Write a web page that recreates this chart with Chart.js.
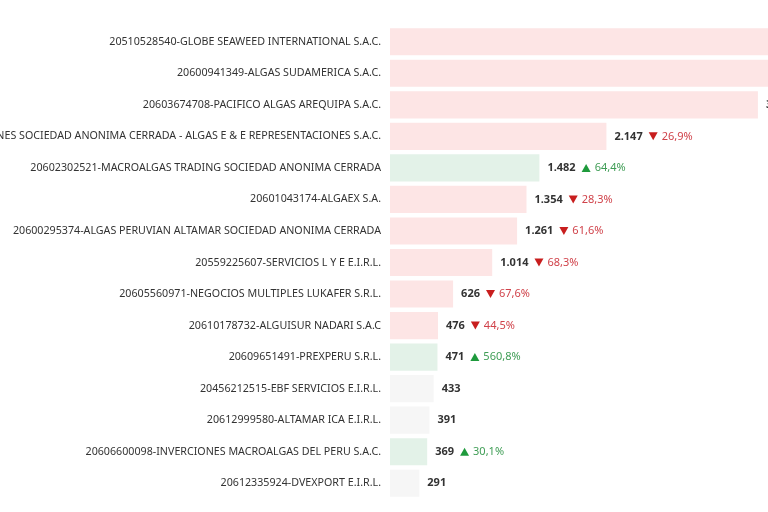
<!DOCTYPE html>
<html>
<head>
<meta charset="utf-8">
<script src="https://cdn.jsdelivr.net/npm/chart.js@4.4.1/dist/chart.umd.min.js"></script>
<style>
  html, body { margin: 0; padding: 0; background: #ffffff; overflow: hidden; }
  #wrap { width: 768px; height: 512px; position: relative; }
</style>
</head>
<body>
<div id="wrap"><canvas id="myChart"></canvas></div>
<script>
// data
const companies = [
    "20510528540-GLOBE SEAWEED INTERNATIONAL S.A.C.",
    "20600941349-ALGAS SUDAMERICA S.A.C.",
    "20603674708-PACIFICO ALGAS AREQUIPA S.A.C.",
    "ALGAS E & E REPRESENTACIONES SOCIEDAD ANONIMA CERRADA - ALGAS E & E REPRESENTACIONES S.A.C.",
    "20602302521-MACROALGAS TRADING SOCIEDAD ANONIMA CERRADA",
    "20601043174-ALGAEX S.A.",
    "20600295374-ALGAS PERUVIAN ALTAMAR SOCIEDAD ANONIMA CERRADA",
    "20559225607-SERVICIOS L Y E E.I.R.L.",
    "20605560971-NEGOCIOS MULTIPLES LUKAFER S.R.L.",
    "20610178732-ALGUISUR NADARI S.A.C",
    "20609651491-PREXPERU S.R.L.",
    "20456212515-EBF SERVICIOS E.I.R.L.",
    "20612999580-ALTAMAR ICA E.I.R.L.",
    "20606600098-INVERCIONES MACROALGAS DEL PERU S.A.C.",
    "20612335924-DVEXPORT E.I.R.L."
];
const amounts = [4980, 4120, 3650, 2147, 1482, 1354, 1261, 1014, 626, 476, 471, 433, 391, 369, 291];
// trend: -1 down, 1 up, 0 no comparison
const trend = [-1, -1, -1, -1, 1, -1, -1, -1, -1, -1, 1, 0, 0, 1, 0];
const changePct = [null, null, null, 26.9, 64.4, 28.3, 61.6, 68.3, 67.6, 44.5, 560.8, null, null, 30.1, null];
const axisMax = 3750;

const fontFamily = "'Noto Sans', 'Open Sans', sans-serif";

function fmtInt(n) {
    return String(Math.round(n)).replace(/\B(?=(\d{3})+(?!\d))/g, ".");
}
function fmtPct(p) {
    return p.toFixed(1).replace(".", ",") + "%";
}

const barColors = trend.map(t => t < 0 ? "#fde5e5" : (t > 0 ? "#e3f2e8" : "#f6f6f6"));

// draws value + change after each bar
const valueLabels = {
    id: "valueLabels",
    afterDatasetsDraw(chart) {
        const ctx = chart.ctx;
        const meta = chart.getDatasetMeta(0);
        ctx.save();
        ctx.textBaseline = "middle";
        ctx.textAlign = "left";
        meta.data.forEach((bar, i) => {
            let x = bar.x + 8;
            const y = bar.y;
            ctx.font = "bold 11px " + fontFamily;
            ctx.fillStyle = "#333333";
            const txt = fmtInt(amounts[i]);
            ctx.fillText(txt, x, y);
            x += ctx.measureText(txt).width + 6;
            if (changePct[i] !== null) {
                const up = trend[i] > 0;
                ctx.fillStyle = up ? "#1e9a3c" : "#c81e1e";
                ctx.beginPath();
                if (up) {
                    ctx.moveTo(x, y + 4);
                    ctx.lineTo(x + 9, y + 4);
                    ctx.lineTo(x + 4.5, y - 4);
                } else {
                    ctx.moveTo(x, y - 4);
                    ctx.lineTo(x + 9, y - 4);
                    ctx.lineTo(x + 4.5, y + 4);
                }
                ctx.closePath();
                ctx.fill();
                x += 13;
                ctx.font = "11px " + fontFamily;
                ctx.fillStyle = up ? "#3f9d55" : "#d0424a";
                ctx.fillText(fmtPct(changePct[i]), x, y);
            }
        });
        ctx.restore();
    }
};

const ctx = document.getElementById("myChart").getContext("2d");
const myChart = new Chart(ctx, {
    type: "bar",
    data: {
        labels: companies,
        datasets: [{
            data: amounts,
            backgroundColor: barColors,
            borderWidth: 0,
            barPercentage: 0.86,
            categoryPercentage: 1.0
        }]
    },
    options: {
        indexAxis: "y",
        responsive: true,
        maintainAspectRatio: false,
        animation: false,
        layout: { padding: { top: 26, bottom: 13, left: 0, right: 0 } },
        plugins: {
            legend: { display: false },
            tooltip: { enabled: false }
        },
        scales: {
            x: {
                display: false,
                min: 0,
                max: axisMax
            },
            y: {
                grid: { display: false },
                border: { display: false },
                ticks: {
                    color: "#333333",
                    padding: 1,
                    font: { family: fontFamily, size: 10.7 }
                },
                afterFit(scale) { scale.width = 390; }
            }
        }
    },
    plugins: [valueLabels]
});
</script>
</body>
</html>
